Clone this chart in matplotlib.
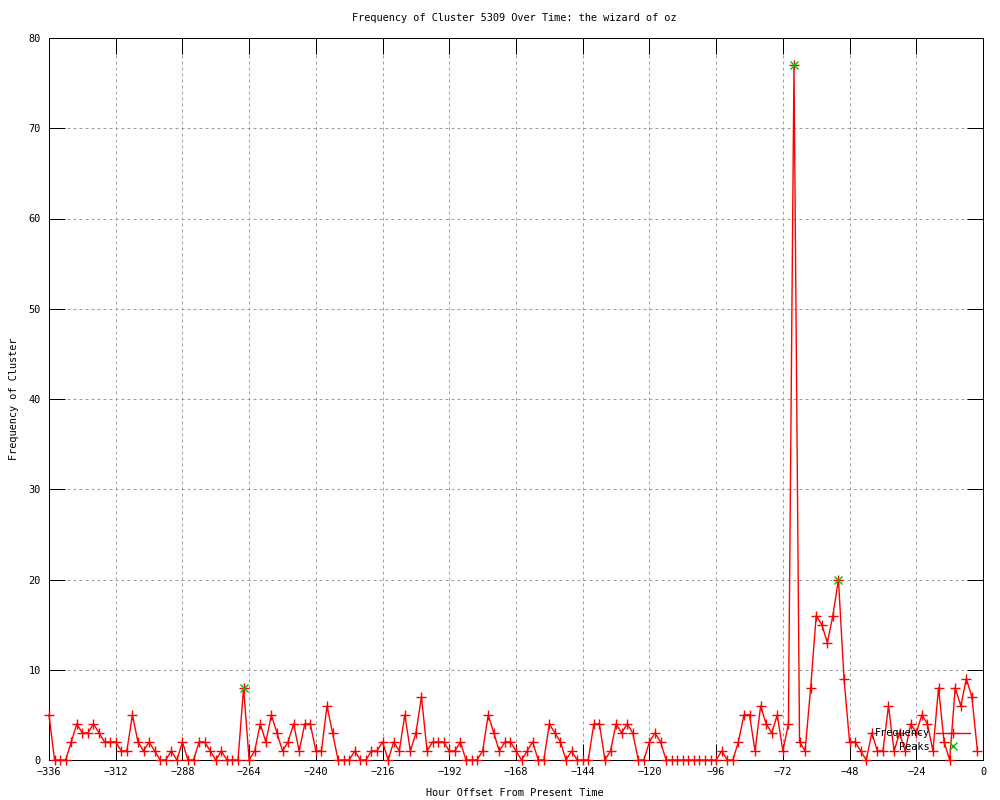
import matplotlib
matplotlib.use("Agg")
import matplotlib.pyplot as plt
import numpy as np

# Data: hour offsets (every 2 hours) and frequency values
hours = list(range(-336, 0, 2))
freq = [
    5, 0, 0, 0, 2, 4, 3, 3, 4, 3, 2, 2, 2, 1, 1, 5, 2, 1, 2, 1,      # -336 .. -298
    0, 0, 1, 0, 2, 0, 0, 2, 2, 1, 0, 1, 0, 0, 0, 8, 0, 1, 4, 2,      # -296 .. -258
    5, 3, 1, 2, 4, 1, 4, 4, 1, 1, 6, 3, 0, 0, 0, 1, 0, 0, 1, 1,      # -256 .. -218
    2, 0, 2, 1, 5, 1, 3, 7, 1, 2, 2, 2, 1, 1, 2, 0, 0, 0, 1, 5,      # -216 .. -178
    3, 1, 2, 2, 1, 0, 1, 2, 0, 0, 4, 3, 2, 0, 1, 0, 0, 0, 4, 4,      # -176 .. -138
    0, 1, 4, 3, 4, 3, 0, 0, 2, 3, 2, 0, 0, 0, 0, 0, 0, 0, 0, 0,      # -136 .. -98
    0, 1, 0, 0, 2, 5, 5, 1, 6, 4, 3, 5, 1, 4, 77, 2, 1, 8, 16, 15,   # -96 .. -58
    13, 16, 20, 9, 2, 2, 1, 0, 3, 1, 1, 6, 1, 3, 1, 4, 3, 5, 4, 1,   # -56 .. -18
    8, 2, 0, 8, 6, 9, 7, 1,                                          # -16 .. -2
]
peak_hours = [-266, -68, -52]
peak_values = [8, 77, 20]

x_ticks = list(range(-336, 1, 24))
y_ticks = list(range(0, 81, 10))

title = "Frequency of Cluster 5309 Over Time: the wizard of oz"
xlabel = "Hour Offset From Present Time"
ylabel = "Frequency of Cluster"

plt.rcParams['font.family'] = ['DejaVu Sans Mono']
FS = 7.4
px = 0.72  # one pixel in points at 100 dpi

fig = plt.figure(figsize=(10, 8), dpi=100)
ax = fig.add_axes([0.049, 0.05, 0.934, 0.9025])

ax.plot(hours, freq, color='red', lw=1.0, marker='+', ms=7, mew=1.0,
        label='Frequency', clip_on=False, zorder=3)
ax.plot(peak_hours, peak_values, color='#00c000', ls='none', marker='x',
        ms=5.5, mew=1.0, label='Peaks', clip_on=False, zorder=4)

ax.set_xlim(-336, 0)
ax.set_ylim(0, 80)
ax.set_xticks(x_ticks)
ax.set_yticks(y_ticks)
ax.tick_params(direction='in', length=11.5, width=px, top=True, right=True,
               labelsize=FS, pad=5, color='black')
ax.tick_params(axis='y', pad=6)
for s in ax.spines.values():
    s.set_linewidth(px)
    s.set_color('black')

ax.grid(True, color='#a0a0a0', lw=px, ls=(0, (3, 3)))
ax.set_axisbelow(True)

ax.set_xlabel(xlabel, fontsize=FS)
ax.xaxis.set_label_coords(0.499, -0.0457)
ax.xaxis.label.set_va('center')
ax.set_ylabel(ylabel, fontsize=FS)
ax.yaxis.set_label_coords(-0.0375, 0.5)
ax.yaxis.label.set_va('center')

fig.text(0.514, 1 - 18 / 800, title, ha='center', va='center', fontsize=FS)

leg = ax.legend(loc='lower right', bbox_to_anchor=(0.986, 0.011),
                markerfirst=False, frameon=False, fontsize=FS,
                handlelength=3.3, handletextpad=0.6, labelspacing=0.35,
                borderpad=0, borderaxespad=0)
for t in leg.get_texts():
    t.set_ha('right')

fig.savefig('out.png', dpi=100)
